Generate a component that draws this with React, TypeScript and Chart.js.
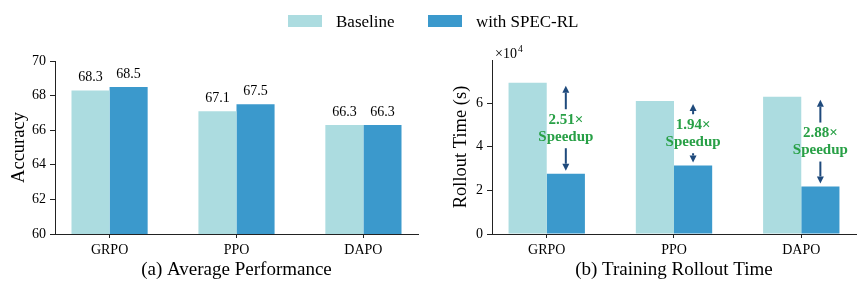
import React, { useEffect, useRef } from 'react';
import { Chart, registerables } from 'chart.js';

Chart.register(...registerables);

// ---------------- data ----------------
const categories = ['GRPO', 'PPO', 'DAPO'];
const seriesNames = ['Baseline', 'with SPEC-RL'];
const accuracyBaseline = [68.3, 67.1, 66.3];
const accuracySpec = [68.5, 67.5, 66.3];
const rolloutBaseline = [69300, 60900, 62900]; // seconds
const rolloutSpec = [27600, 31400, 21800]; // seconds
const speedupLabels = ['2.51×', '1.94×', '2.88×'];
const speedupWord = 'Speedup';
const accuracyTickValues = [60, 62, 64, 66, 68, 70];
const rolloutTickValues = [0, 20000, 40000, 60000];
const panelTitles = ['(a) Average Performance', '(b) Training Rollout Time'];
const axisTitles = ['Accuracy', 'Rollout Time (s)'];

// ---------------- styles ----------------
const BASE_COLOR = '#acdce0';
const SPEC_COLOR = '#3b99cc';
const AXIS_COLOR = '#222222';
const ARROW_COLOR = '#1f4a7c';
const GREEN = '#28a046';
const FONT = "'Liberation Serif', 'Times New Roman', serif";

const toPoints = (vals: number[]) => vals.map((y, i) => ({ x: i, y }));

function xScale(titleText: string) {
  return {
    type: 'linear' as const,
    min: -0.43,
    max: 2.43,
    offset: false,
    afterBuildTicks: (scale: any) => {
      scale.ticks = categories.map((_, i) => ({ value: i }));
    },
    afterFit: (scale: any) => {
      scale.height = 54;
    },
    ticks: {
      autoSkip: false,
      maxRotation: 0,
      padding: 4,
      color: '#000',
      font: { family: FONT, size: 14 },
      callback: (v: any) => categories[v] ?? '',
    },
    grid: {
      offset: false,
      drawOnChartArea: false,
      drawTicks: true,
      tickLength: 4,
      color: AXIS_COLOR,
    },
    border: { display: true, color: AXIS_COLOR, width: 1 },
    title: {
      display: true,
      text: titleText,
      color: '#000',
      font: { family: FONT, size: 19 },
      padding: { top: 0, bottom: 7 },
    },
  };
}

function yScale(opts: any) {
  return {
    type: 'linear' as const,
    min: opts.min,
    max: opts.max,
    afterBuildTicks: (scale: any) => {
      scale.ticks = opts.tickValues.map((v: number) => ({ value: v }));
    },
    afterFit: (scale: any) => {
      scale.width = opts.width;
    },
    ticks: {
      padding: 4,
      color: '#000',
      font: { family: FONT, size: 14 },
      callback: opts.callback,
    },
    grid: {
      drawOnChartArea: false,
      drawTicks: true,
      tickLength: 5,
      color: AXIS_COLOR,
    },
    border: { display: true, color: AXIS_COLOR, width: 1 },
    title: {
      display: true,
      text: opts.title,
      color: '#000',
      font: { family: FONT, size: 18.5 },
      padding: { top: opts.titlePad, bottom: 0 },
    },
  };
}

const valueLabelPlugin = {
  id: 'valueLabels',
  afterDatasetsDraw(chart: any) {
    const ctx = chart.ctx;
    ctx.save();
    ctx.font = `14px ${FONT}`;
    ctx.fillStyle = '#000';
    ctx.textAlign = 'center';
    ctx.textBaseline = 'alphabetic';
    chart.data.datasets.forEach((ds: any, di: number) => {
      const meta = chart.getDatasetMeta(di);
      meta.data.forEach((bar: any, i: number) => {
        const v = ds.data[i].y as number;
        ctx.fillText(v.toFixed(1), bar.x, bar.y - 9);
      });
    });
    ctx.restore();
  },
};

function drawArrow(ctx: CanvasRenderingContext2D, x: number, y0: number, y1: number) {
  const dir = y1 > y0 ? 1 : -1;
  const headLen = 7;
  const headHalf = 3.5;
  ctx.beginPath();
  ctx.moveTo(x, y0);
  ctx.lineTo(x, y1 - dir * headLen);
  ctx.stroke();
  ctx.beginPath();
  ctx.moveTo(x, y1);
  ctx.lineTo(x - headHalf, y1 - dir * headLen);
  ctx.lineTo(x + headHalf, y1 - dir * headLen);
  ctx.closePath();
  ctx.fill();
}

const speedupPlugin = {
  id: 'speedup',
  afterDatasetsDraw(chart: any) {
    const ctx = chart.ctx as CanvasRenderingContext2D;
    const ys = chart.scales.y;
    const meta = chart.getDatasetMeta(1);
    ctx.save();
    categories.forEach((_, i) => {
      const x = meta.data[i].x;
      const yTop = ys.getPixelForValue(rolloutBaseline[i]);
      const yBot = ys.getPixelForValue(rolloutSpec[i]);
      const mid = (yTop + yBot) / 2;
      ctx.font = `bold 15px ${FONT}`;
      ctx.fillStyle = GREEN;
      ctx.textAlign = 'center';
      ctx.textBaseline = 'middle';
      ctx.fillText(speedupLabels[i], x, mid - 8);
      ctx.fillText(speedupWord, x, mid + 9);
      ctx.strokeStyle = ARROW_COLOR;
      ctx.fillStyle = ARROW_COLOR;
      ctx.lineWidth = 2;
      drawArrow(ctx, x, mid - 19, yTop + 3);
      drawArrow(ctx, x, mid + 20, yBot - 3);
    });
    // x10^4 multiplier
    const left = chart.chartArea.left;
    ctx.fillStyle = '#000';
    ctx.textAlign = 'left';
    ctx.textBaseline = 'alphabetic';
    ctx.font = `14px ${FONT}`;
    const base = '×10';
    ctx.fillText(base, left + 3, 58);
    const w = ctx.measureText(base).width;
    ctx.font = `9.5px ${FONT}`;
    ctx.fillText('4', left + 3 + w + 1, 52);
    ctx.restore();
  },
};

function makeDatasets(a: number[], b: number[]) {
  return [
    {
      label: seriesNames[0],
      data: toPoints(a),
      backgroundColor: BASE_COLOR,
      borderWidth: 0,
      categoryPercentage: 0.6,
      barPercentage: 1.0,
    },
    {
      label: seriesNames[1],
      data: toPoints(b),
      backgroundColor: SPEC_COLOR,
      borderWidth: 0,
      categoryPercentage: 0.6,
      barPercentage: 1.0,
    },
  ];
}

export default function App() {
  const leftRef = useRef<HTMLCanvasElement | null>(null);
  const rightRef = useRef<HTMLCanvasElement | null>(null);

  useEffect(() => {
    const left = new Chart(leftRef.current as HTMLCanvasElement, {
      type: 'bar',
      data: { datasets: makeDatasets(accuracyBaseline, accuracySpec) as any },
      options: {
        responsive: false,
        animation: false,
        devicePixelRatio: 1,
        layout: { padding: { top: 61, right: 12, left: 0, bottom: 0 } },
        plugins: { legend: { display: false }, tooltip: { enabled: false } },
        scales: {
          x: xScale(panelTitles[0]) as any,
          y: yScale({
            min: 60,
            max: 70,
            tickValues: accuracyTickValues,
            width: 55,
            title: axisTitles[0],
            titlePad: 8,
            callback: (v: any) => String(v),
          }) as any,
        },
      },
      plugins: [valueLabelPlugin],
    });

    const right = new Chart(rightRef.current as HTMLCanvasElement, {
      type: 'bar',
      data: { datasets: makeDatasets(rolloutBaseline, rolloutSpec) as any },
      options: {
        responsive: false,
        animation: false,
        devicePixelRatio: 1,
        layout: { padding: { top: 60, right: 11, left: 0, bottom: 0 } },
        plugins: { legend: { display: false }, tooltip: { enabled: false } },
        scales: {
          x: xScale(panelTitles[1]) as any,
          y: yScale({
            min: 0,
            max: 79700,
            tickValues: rolloutTickValues,
            width: 62,
            title: axisTitles[1],
            titlePad: 20,
            callback: (v: any) => String(Math.round(v / 10000)),
          }) as any,
        },
      },
      plugins: [speedupPlugin],
    });

    return () => {
      left.destroy();
      right.destroy();
    };
  }, []);

  const legendText: React.CSSProperties = {
    position: 'absolute',
    top: 13,
    fontFamily: FONT,
    fontSize: 17,
    lineHeight: '17px',
    color: '#000',
    whiteSpace: 'nowrap',
  };
  const swatch: React.CSSProperties = {
    position: 'absolute',
    top: 15,
    width: 34,
    height: 12,
  };

  return (
    <div
      style={{
        position: 'absolute',
        left: 0,
        top: 0,
        width: 867,
        height: 288,
        background: '#fff',
        overflow: 'hidden',
      }}
    >
      <canvas
        ref={leftRef}
        width={430}
        height={288}
        style={{ position: 'absolute', left: 0, top: 0, width: 430, height: 288 }}
      />
      <canvas
        ref={rightRef}
        width={437}
        height={288}
        style={{ position: 'absolute', left: 430, top: 0, width: 437, height: 288 }}
      />
      <div style={{ ...swatch, left: 288, background: BASE_COLOR }} />
      <div style={{ ...legendText, left: 336 }}>{seriesNames[0]}</div>
      <div style={{ ...swatch, left: 428, background: SPEC_COLOR }} />
      <div style={{ ...legendText, left: 476 }}>{seriesNames[1]}</div>
    </div>
  );
}
